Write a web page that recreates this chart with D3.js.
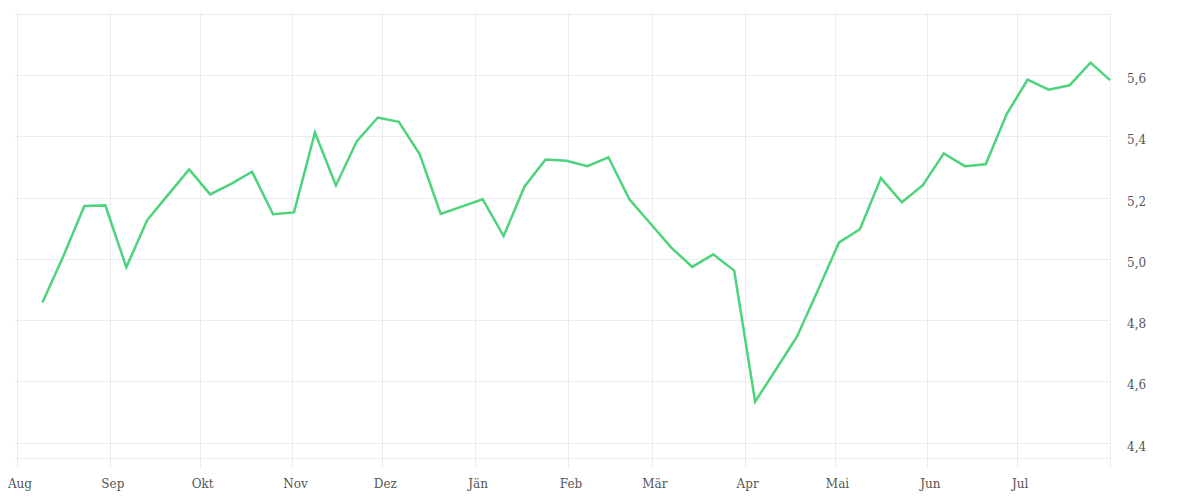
<!DOCTYPE html>
<html><head><meta charset="utf-8">
<script src="https://cdn.jsdelivr.net/npm/d3@7/dist/d3.min.js"></script>
<style>
html,body{margin:0;padding:0;background:#fff;}
svg{display:block;}
</style></head>
<body><svg id="c" width="1200" height="500"></svg>
<script>
const startDate = "2022-08-09";
const values = [4.858,5.010,5.173,5.175,4.973,5.127,5.210,5.292,5.211,5.245,5.285,5.146,5.152,
5.413,5.240,5.385,5.462,5.448,5.342,5.147,5.171,5.195,5.075,5.237,5.325,5.321,5.303,5.332,
5.195,5.116,5.037,4.974,5.015,4.962,4.534,4.640,4.747,4.899,5.054,5.097,5.264,5.185,5.241,
5.345,5.303,5.309,5.473,5.586,5.553,5.567,5.641,5.584];
const monthLabels = ["Aug","Sep","Okt","Nov","Dez","Jän","Feb","Mär","Apr","Mai","Jun","Jul"];
const yTicks = [4.4,4.6,4.8,5.0,5.2,5.4,5.6];
const yDomain = [4.35, 5.8];
const xDomain = ["2022-08-01","2023-08-01"];

(function(){
const parse = d3.utcParse("%Y-%m-%d");
const t0 = parse(startDate);
const data = values.map((v,i)=>({date: d3.utcHour.offset(t0, 7*24*i + 12), value: v}));

const svg = d3.select("#c");
const mLeft = 17, mRight = 1110, mTop = 14, mBottom = 458;
const x = d3.scaleUtc().domain(xDomain.map(parse)).range([mLeft, mRight]);
const y = d3.scaleLinear().domain(yDomain).range([mBottom, mTop]);

const grid = "#ececec";
const hLines = yTicks.concat([yDomain[1], yDomain[0]]);
svg.append("g").selectAll("line").data(hLines).join("line")
  .attr("x1", mLeft-2).attr("x2", mRight)
  .attr("y1", d=>Math.round(y(d))+0.5).attr("y2", d=>Math.round(y(d))+0.5)
  .attr("stroke", grid).attr("stroke-width", 1);

const monthTicks = d3.utcMonth.range(x.domain()[0], d3.utcDay.offset(x.domain()[1],1));
svg.append("g").selectAll("line").data(monthTicks).join("line")
  .attr("x1", d=>Math.round(x(d))+0.5).attr("x2", d=>Math.round(x(d))+0.5)
  .attr("y1", mTop-2).attr("y2", mBottom+10)
  .attr("stroke", grid).attr("stroke-width", 1);

const font = "'DejaVu Serif', serif";
svg.append("g").selectAll("text").data(monthTicks.slice(0,12)).join("text")
  .attr("x", d=>x(d)+3).attr("y", 488)
  .attr("text-anchor","middle")
  .attr("font-family",font).attr("font-size",12)
  .attr("fill","#555")
  .text((d,i)=>monthLabels[i]);

const fmt = d => d3.format(".1f")(d).replace(".", ",");
svg.append("g").selectAll("text").data(yTicks).join("text")
  .attr("x", 1127).attr("y", d=>y(d)+8)
  .attr("font-family",font).attr("font-size",12)
  .attr("fill","#555")
  .text(fmt);

const line = d3.line().x(d=>Math.min(mRight, x(d.date))).y(d=>y(d.value));
svg.append("path").datum(data)
  .attr("d", line).attr("fill","none")
  .attr("stroke","#4cd37b").attr("stroke-width",2.5)
  .attr("stroke-linejoin","miter");
})();
</script>
</body></html>
